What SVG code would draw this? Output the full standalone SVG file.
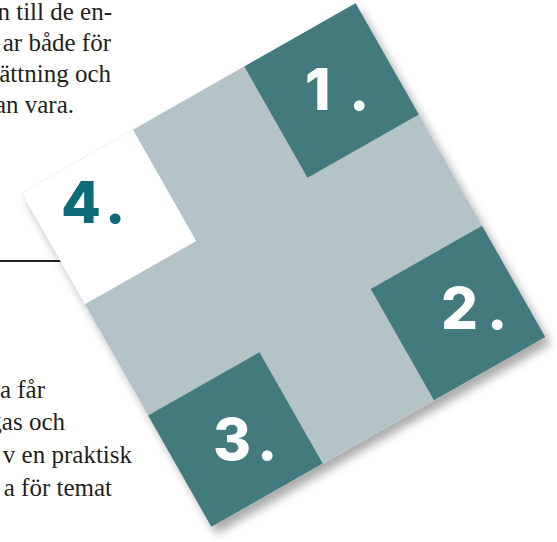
<svg xmlns="http://www.w3.org/2000/svg" width="557" height="542" viewBox="0 0 557 542">
  <style>
    .body { font-family: "Liberation Serif", "Times New Roman", serif; font-size: 25px; fill: #231f20; }
    .num { font-family: Inter, "Open Sans", "Liberation Sans", sans-serif; font-weight: 800; font-size: 58px; }
    .numw { fill: #ffffff; }
    .numt { fill: #0d6b77; }
    .teal { fill: #437a7e; }
    .gray { fill: #b4c3c8; }
    .white { fill: #ffffff; }
  </style>
  <defs>
    <filter id="shadow" x="-20%" y="-20%" width="140%" height="140%">
      <feGaussianBlur in="SourceAlpha" stdDeviation="5"/>
      <feOffset dx="5" dy="7" result="b"/>
      <feFlood flood-color="#000000" flood-opacity="0.33"/>
      <feComposite in2="b" operator="in"/>
      <feMerge>
        <feMergeNode/>
        <feMergeNode in="SourceGraphic"/>
      </feMerge>
    </filter>
  </defs>
  <rect width="557" height="542" fill="#ffffff"/>

  <g id="text-top" class="body" text-anchor="end">
    <text x="112" y="20">n till de en-</text>
    <text x="111" y="51">ar både för</text>
    <text x="111" y="82">ättning och</text>
    <text x="74" y="113">an vara.</text>
  </g>
  <g id="text-bottom" class="body" text-anchor="end">
    <text x="45" y="397.7">a får</text>
    <text x="65" y="430.3">gas och</text>
    <text x="132" y="463">v en praktisk</text>
    <text x="112" y="495.6">a för temat</text>
  </g>

  <g id="connectors">
    <line x1="0" y1="261" x2="64" y2="261" stroke="#231f20" stroke-width="2.2"/>
  </g>

  <g filter="url(#shadow)">
    <g transform="translate(283.5,265) rotate(-29.6)">
      <g id="cross">
        <rect class="gray" x="-192" y="-192" width="384" height="384"/>
      </g>
      <g id="cell-1"><rect class="teal" x="64" y="-192" width="128" height="128"/></g>
      <g id="cell-2"><rect class="teal" x="64" y="64" width="128" height="128"/></g>
      <g id="cell-3"><rect class="teal" x="-192" y="64" width="128" height="128"/></g>
      <g id="cell-4"><rect class="white" x="-192" y="-192" width="128" height="128"/></g>
    </g>
  </g>

  <g id="label-1"><text class="num numw" x="305" y="110">1<tspan x="349">.</tspan></text></g>
  <g id="label-2"><text class="num numw" x="441" y="329">2<tspan x="487">.</tspan></text></g>
  <g id="label-3"><text class="num numw" x="213" y="460">3<tspan x="257">.</tspan></text></g>
  <g id="label-4"><text class="num numt" x="61" y="223">4<tspan x="105">.</tspan></text></g>
</svg>
